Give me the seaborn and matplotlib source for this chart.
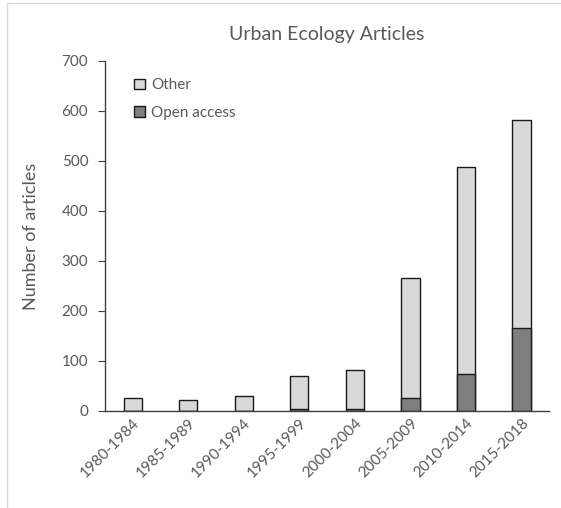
import pandas as pd
import seaborn as sns
import matplotlib.pyplot as plt
from matplotlib.patches import Patch
from matplotlib.lines import Line2D

# Data
periods = ["1980-1984", "1985-1989", "1990-1994", "1995-1999",
           "2000-2004", "2005-2009", "2010-2014", "2015-2018"]
open_access = [0, 0, 0, 3, 4, 26, 74, 166]
other = [26, 22, 30, 67, 78, 240, 414, 416]

df = pd.DataFrame({"Period": periods, "Open access": open_access, "Other": other})
df["Total"] = df["Open access"] + df["Other"]

sns.set_theme(style="white")
plt.rcParams['font.family'] = ['Lato', 'DejaVu Sans']
text_col = "#595959"

fig = plt.figure(figsize=(5.61, 5.08), dpi=100)
ax = fig.add_axes([0.187, 0.191, 0.792, 0.689])

# Stacked bars: total (light) drawn first, open access on top of it
sns.barplot(data=df, x="Period", y="Total", color="#d9d9d9", width=0.33,
            edgecolor="#1a1a1a", linewidth=1.0, saturation=1, ax=ax)
sns.barplot(data=df, x="Period", y="Open access", color="#7f7f7f", width=0.33,
            edgecolor="#1a1a1a", linewidth=1.0, saturation=1, ax=ax)

ax.set_ylim(0, 700)
ax.set_xlim(-0.5, len(periods) - 0.5)
ax.set_yticks(range(0, 701, 100))
ax.set_xlabel("")
ax.set_ylabel("Number of articles", fontsize=13, color=text_col, labelpad=16)
ax.set_title("Urban Ecology Articles", fontsize=14, color=text_col, pad=15)

ax.tick_params(axis="y", labelsize=11, colors=text_col, length=5, width=0.8,
               left=True, pad=7)
ax.tick_params(axis="x", labelsize=11, colors=text_col, length=0)
plt.setp(ax.get_xticklabels(), rotation=45, ha="right", rotation_mode="anchor")
ax.tick_params(axis="y", color="#404040")

for s in ["top", "right"]:
    ax.spines[s].set_visible(False)
for s in ["left", "bottom"]:
    ax.spines[s].set_color("#404040")
    ax.spines[s].set_linewidth(1.0)

handles = [Patch(facecolor="#d9d9d9", edgecolor="#1a1a1a", label="Other"),
           Patch(facecolor="#7f7f7f", edgecolor="#1a1a1a", label="Open access")]
leg = ax.legend(handles=handles, loc="upper left", bbox_to_anchor=(0.035, 0.99),
                frameon=False, fontsize=11, handlelength=0.7, handleheight=0.7,
                handletextpad=0.4, labelspacing=0.9)
for t in leg.get_texts():
    t.set_color(text_col)

# light chart border, visible on the left and top only
fig.lines.append(Line2D([0.0125, 0.0125, 1.0], [0.0, 0.994, 0.994],
                        transform=fig.transFigure, color="#d9d9d9", linewidth=1))

fig.savefig("out.png", dpi=100)
